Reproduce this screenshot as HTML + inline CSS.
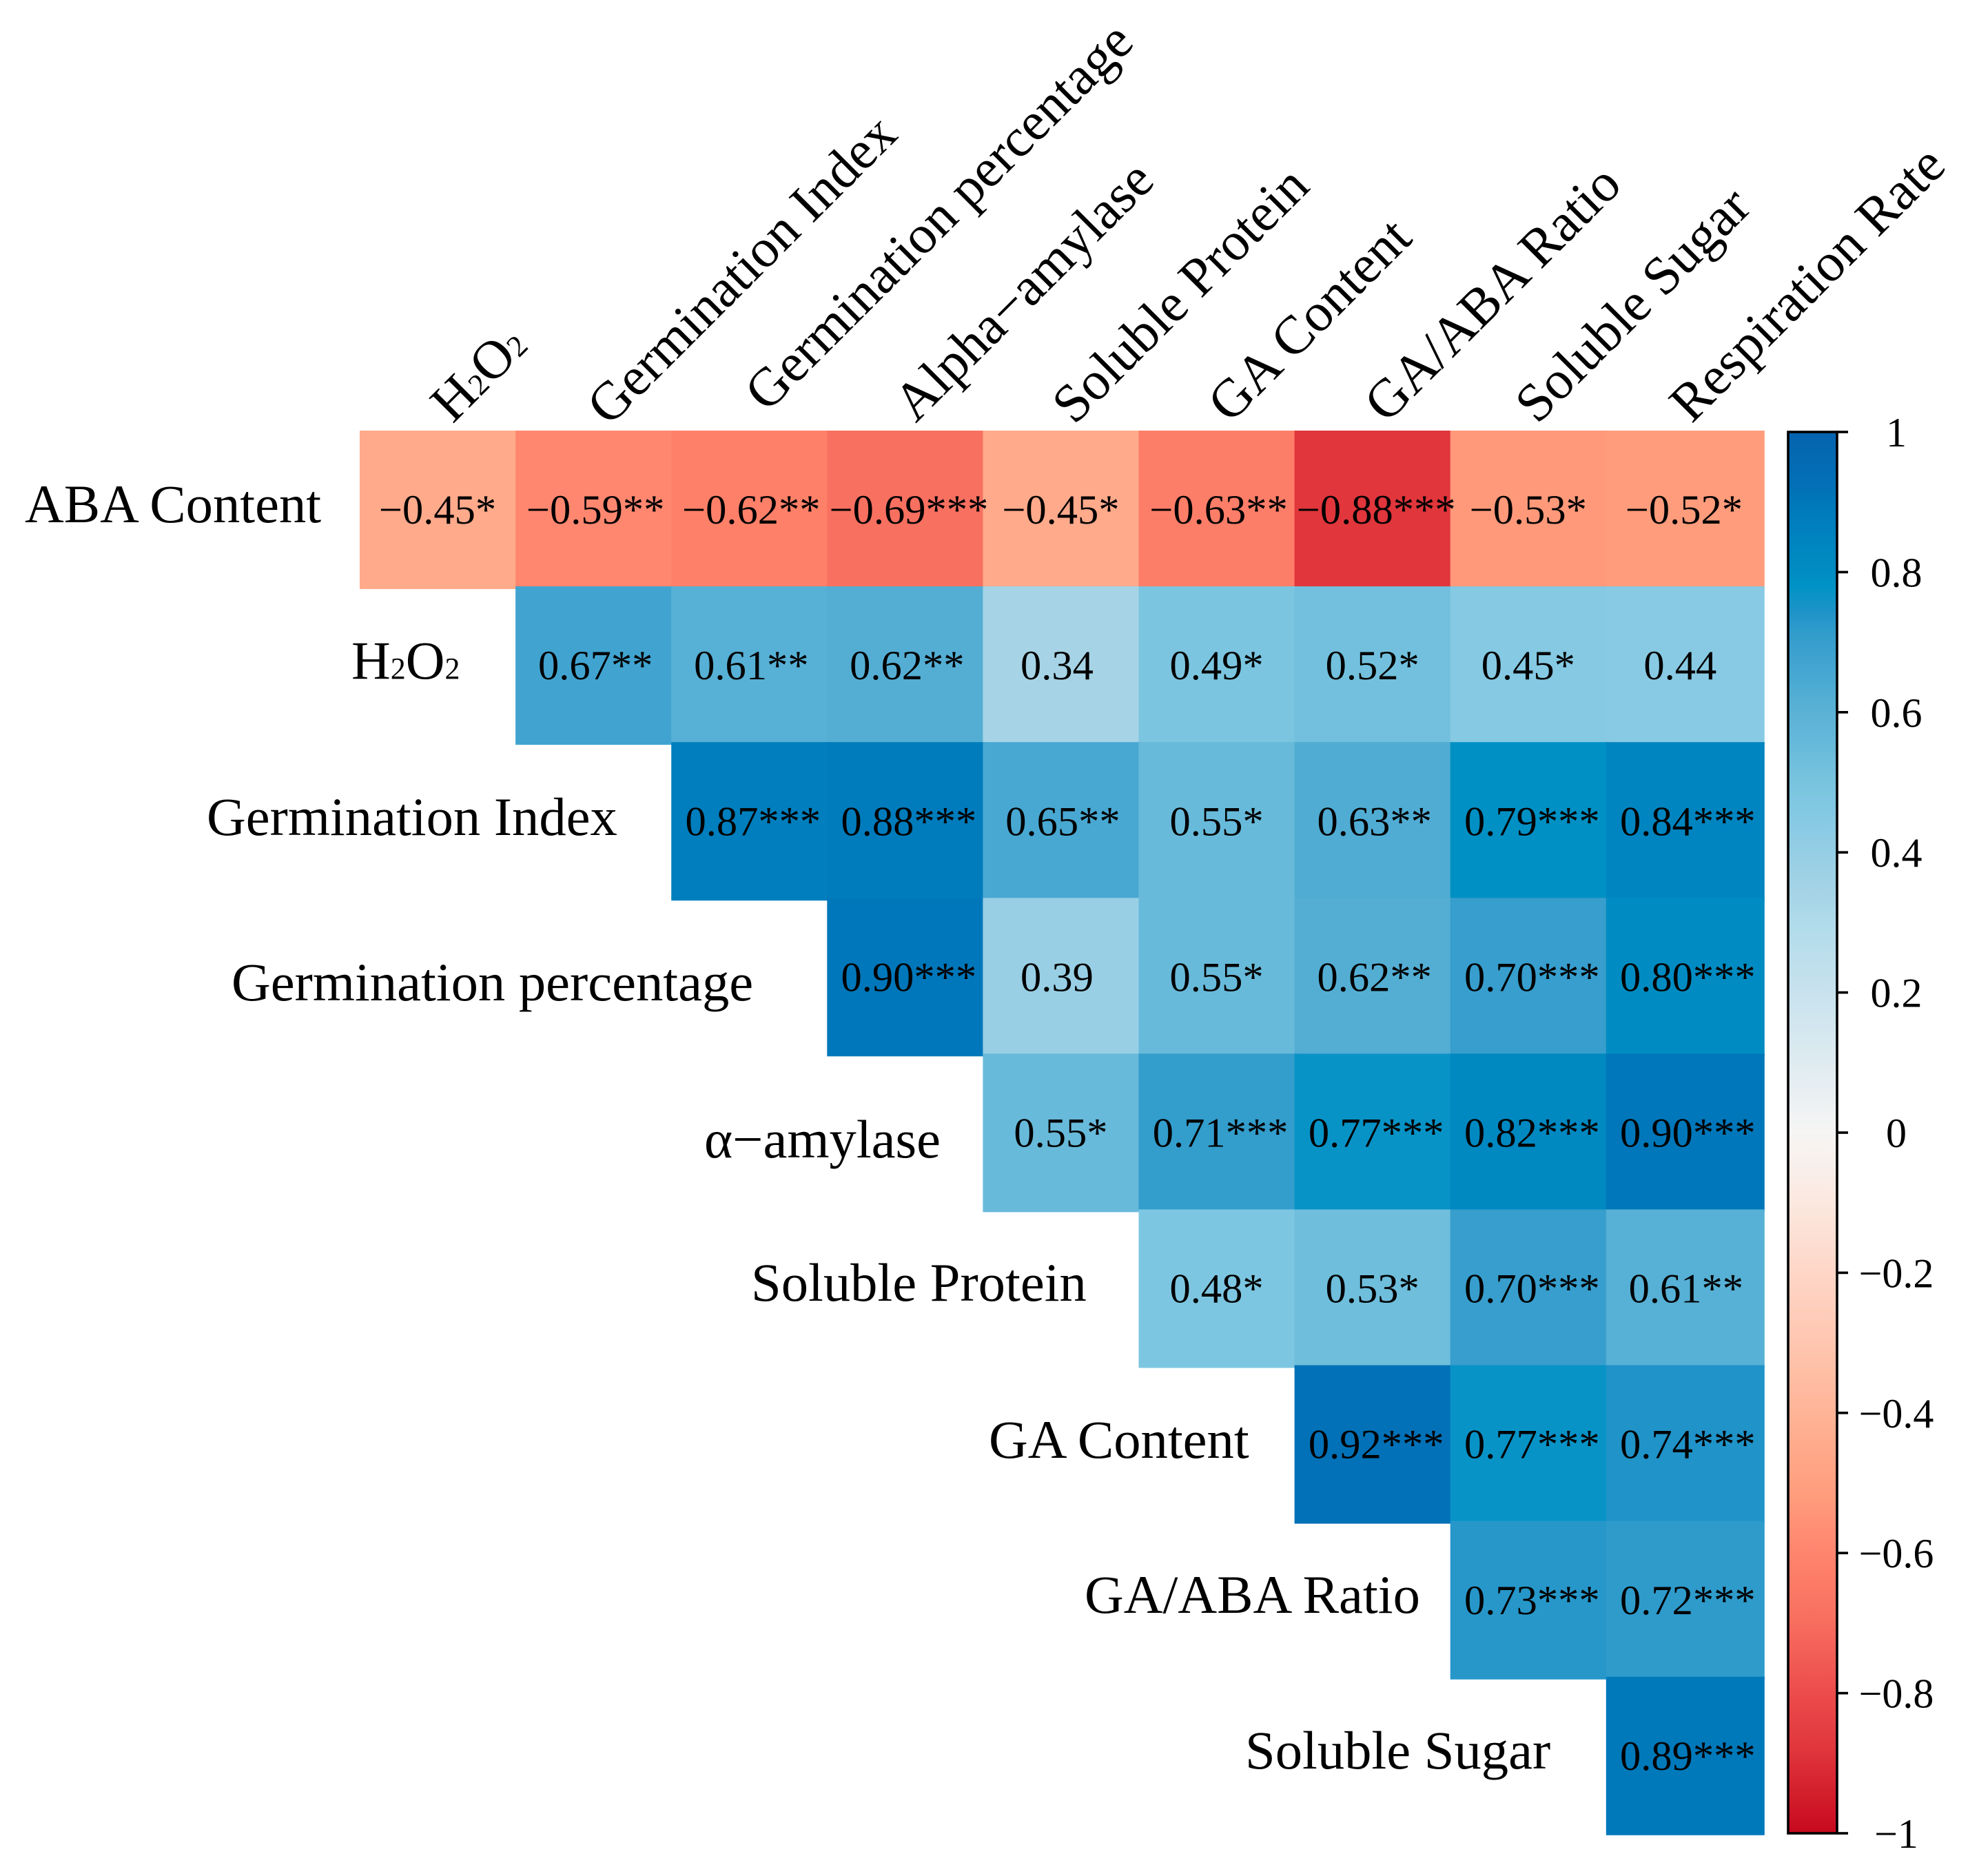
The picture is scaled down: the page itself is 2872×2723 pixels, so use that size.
<!DOCTYPE html>
<html lang="en">
<head>
<meta charset="utf-8">
<title>Correlation heatmap</title>
<style>
html,body{margin:0;padding:0;background:#fff;}
svg{display:block;}
text{font-family:"Liberation Serif","Times New Roman",serif;fill:#000;}
.ax{font-size:78.6px;}
.sub{font-size:44px;}
.val{font-size:60.5px;text-anchor:middle;}
.tick{font-size:60px;text-anchor:middle;}
</style>
</head>
<body>
<svg id="chart" xmlns="http://www.w3.org/2000/svg" width="2872" height="2723" viewBox="0 0 2872 2723">
  <rect x="0" y="0" width="2872" height="2723" fill="#ffffff"/>
  <defs><linearGradient id="cbGrad" x1="0" y1="0" x2="0" y2="1"></linearGradient></defs>
  <g id="cells"></g>
  <g id="values"></g>

  <g>
    <text class="ax" x="36" y="758">ABA Content</text>
    <text class="ax" x="510" y="985">H<tspan class="sub">2</tspan>O<tspan class="sub">2</tspan></text>
    <text class="ax" x="300" y="1212">Germination Index</text>
    <text class="ax" x="336" y="1452">Germination percentage</text>
    <text class="ax" x="1022" y="1680">α−amylase</text>
    <text class="ax" x="1090" y="1888">Soluble Protein</text>
    <text class="ax" x="1435" y="2116">GA Content</text>
    <text class="ax" x="1574" y="2341">GA/ABA Ratio</text>
    <text class="ax" x="1807" y="2567">Soluble Sugar</text>
  </g>

  <g>
    <text class="ax" transform="translate(657 616) rotate(-45)">H<tspan class="sub">2</tspan>O<tspan class="sub">2</tspan></text>
    <text class="ax" transform="translate(884 620) rotate(-45)">Germination Index</text>
    <text class="ax" transform="translate(1113 600) rotate(-45)">Germination percentage</text>
    <text class="ax" transform="translate(1329 615) rotate(-45)">Alpha−amylase</text>
    <text class="ax" transform="translate(1559 618) rotate(-45)">Soluble Protein</text>
    <text class="ax" transform="translate(1785 616) rotate(-45)">GA Content</text>
    <text class="ax" transform="translate(2012 616) rotate(-45)">GA/ABA Ratio</text>
    <text class="ax" transform="translate(2231 617) rotate(-45)">Soluble Sugar</text>
    <text class="ax" transform="translate(2455 616) rotate(-45)">Respiration Rate</text>
  </g>

  <g id="colorbar"></g>
</svg>
<script>
// Correlation values, upper triangle: each row starts on the diagonal.
const rowAba = [-0.45, -0.59, -0.62, -0.69, -0.45, -0.63, -0.88, -0.53, -0.52];
const rowH2o2 = [0.67, 0.61, 0.62, 0.34, 0.49, 0.52, 0.45, 0.44];
const rowGermIndex = [0.87, 0.88, 0.65, 0.55, 0.63, 0.79, 0.84];
const rowGermPct = [0.90, 0.39, 0.55, 0.62, 0.70, 0.80];
const rowAmylase = [0.55, 0.71, 0.77, 0.82, 0.90];
const rowProtein = [0.48, 0.53, 0.70, 0.61];
const rowGaContent = [0.92, 0.77, 0.74];
const rowGaAbaRatio = [0.73, 0.72];
const rowSugar = [0.89];

// Significance markers for each printed value.
const starsAba = ['*', '**', '**', '***', '*', '**', '***', '*', '*'];
const starsH2o2 = ['**', '**', '**', '', '*', '*', '*', ''];
const starsGermIndex = ['***', '***', '**', '*', '**', '***', '***'];
const starsGermPct = ['***', '', '*', '**', '***', '***'];
const starsAmylase = ['*', '***', '***', '***', '***'];
const starsProtein = ['*', '*', '***', '**'];
const starsGaContent = ['***', '***', '***'];
const starsGaAbaRatio = ['***', '***'];
const starsSugar = ['***'];

// Colour scale domain, colours and colourbar tick values.
const scaleValues = [1, 0.92, 0.9, 0.85, 0.8, 0.78, 0.74, 0.72, 0.7, 0.65, 0.62, 0.55, 0.5, 0.45, 0.39, 0.34, 0.3, 0.2, 0.1, 0, -0.1, -0.2, -0.3, -0.4, -0.45, -0.52, -0.59, -0.62, -0.69, -0.8, -0.88, -1];
const scaleColors = ['#0563ae', '#0271b7', '#0077ba', '#0083bf', '#008cc2', '#0093c6', '#2093c8', '#2e9bcb', '#379ecd', '#48a8d2', '#54aed4', '#68bada', '#78c4df', '#85c9e3', '#98cfe5', '#a6d4e6', '#b0dbea', '#c8e2ed', '#dfebf1', '#f6f5f4', '#fbe8df', '#fed6c7', '#fec6b0', '#ffb497', '#ffaa8b', '#ff9c7c', '#ff8770', '#fe8069', '#f87060', '#ec4c4c', '#e0363c', '#c8091f'];
const barTicks = [1, 0.8, 0.6, 0.4, 0.2, 0, -0.2, -0.4, -0.6, -0.8, -1];

const matrixRows = [rowAba, rowH2o2, rowGermIndex, rowGermPct, rowAmylase, rowProtein, rowGaContent, rowGaAbaRatio, rowSugar];
const matrixStars = [starsAba, starsH2o2, starsGermIndex, starsGermPct, starsAmylase, starsProtein, starsGaContent, starsGaAbaRatio, starsSugar];

const NS = 'http://www.w3.org/2000/svg';
const PITCH = 226.1, CELL = 230;
const colX = function (c) { return 522 + PITCH * c; };
const rowY = function (r) { return 625 + PITCH * r; };
const barY = function (v) { return 627 + (1 - v) / 2 * 2034; };
// Printed labels sit slightly off-centre depending on how many stars follow.
const labelShift = function (stars) { return stars.length === 0 ? -5.5 : stars.length === 1 ? 0 : stars.length === 2 ? 3 : 5.5; };

function hexToRgb(h) {
  return [parseInt(h.slice(1, 3), 16), parseInt(h.slice(3, 5), 16), parseInt(h.slice(5, 7), 16)];
}
function colorFor(v) {
  if (v >= scaleValues[0]) return scaleColors[0];
  for (let i = 1; i < scaleValues.length; i++) {
    if (v >= scaleValues[i]) {
      const t = (v - scaleValues[i]) / (scaleValues[i - 1] - scaleValues[i]);
      const a = hexToRgb(scaleColors[i]);
      const b = hexToRgb(scaleColors[i - 1]);
      return 'rgb(' + [0, 1, 2].map(function (k) { return Math.round(a[k] + (b[k] - a[k]) * t); }).join(',') + ')';
    }
  }
  return scaleColors[scaleColors.length - 1];
}
function fmt(v) {
  return (v < 0 ? '\u2212' : '') + Math.abs(v).toFixed(2);
}
function make(tag, attrs, parent) {
  const el = document.createElementNS(NS, tag);
  Object.keys(attrs).forEach(function (k) { el.setAttribute(k, attrs[k]); });
  parent.appendChild(el);
  return el;
}

const cellsG = document.getElementById('cells');
const valuesG = document.getElementById('values');
matrixRows.forEach(function (row, r) {
  row.forEach(function (v, i) {
    const c = r + i;
    const stars = matrixStars[r][i];
    const rect = make('rect', { x: colX(c), y: rowY(r), width: CELL, height: CELL, fill: colorFor(v) }, cellsG);
    
    
    const label = make('text', { class: 'val', x: colX(c) + PITCH / 2 + labelShift(stars), y: rowY(r) + PITCH / 2 + 22 }, valuesG);
    
    
    label.textContent = fmt(v) + stars;
  });
});

// Colourbar
const grad = document.getElementById('cbGrad');
scaleValues.forEach(function (v, i) {
  make('stop', { offset: (1 - v) / 2, 'stop-color': scaleColors[i] }, grad);
});
const bar = document.getElementById('colorbar');
const fill = make('rect', { x: 2595, y: barY(1), width: 71, height: barY(-1) - barY(1), fill: 'url(#cbGrad)', stroke: '#000', 'stroke-width': 3.6 }, bar);


barTicks.forEach(function (v) {
  const y = barY(v);
  const tick = make('line', { x1: 2666, x2: 2682, y1: y, y2: y, stroke: '#000', 'stroke-width': 3.6 }, bar);
  
  
  const t = make('text', { class: 'tick', x: 2752, y: y + 21 }, bar);
  
  
  t.textContent = (v < 0 ? '\u2212' : '') + Math.abs(v);
});
</script>
</body>
</html>
